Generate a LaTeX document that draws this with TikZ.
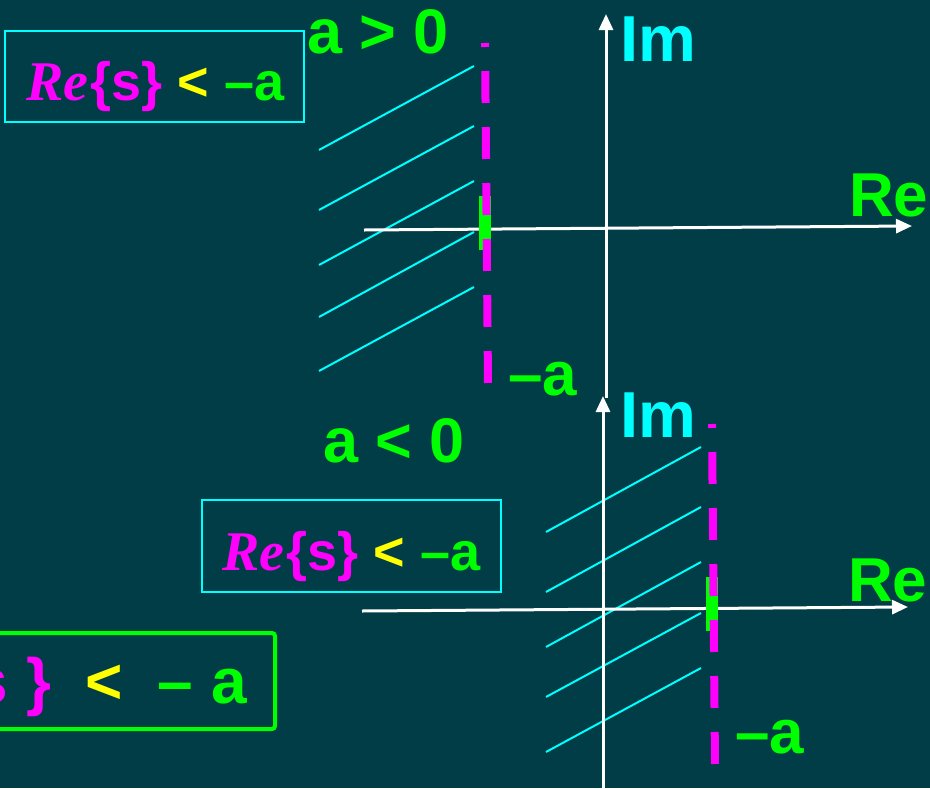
\documentclass[tikz,border=0pt]{standalone}
\usepackage{fontspec}
\setmainfont{Liberation Sans}
\newfontfamily\eqserif{Liberation Serif}
\usetikzlibrary{arrows.meta}
\definecolor{bg}{RGB}{1,61,71}
\definecolor{mag}{RGB}{255,0,255}
\definecolor{yel}{RGB}{255,255,0}
\definecolor{grn}{RGB}{0,255,0}
\definecolor{cyn}{RGB}{0,255,255}
\newcommand\myfs[1]{\fontsize{#1}{#1}\selectfont}
\newcommand\boxtext{{\myfs{56}\eqserif\bfseries\itshape\color{mag}Re\kern2pt}{\myfs{54}\bfseries\color{mag}\{s\} \color{yel}< \color{grn}–a}}
\tikzset{
  axisline/.style={draw=white, line width=3pt, -{Triangle[length=16pt,width=14pt]}},
  hatchline/.style={draw=cyn, line width=2pt},
  limitline/.style={draw=mag, line width=8pt, dash pattern=on 32pt off 24pt, dash phase=28pt},
  markbar/.style={fill=grn, draw=none},
  lbl/.style={anchor=base west, inner sep=0pt, font=\bfseries},
  condbox/.style={draw=cyn, line width=2pt},
  bigbox/.style={draw=grn, line width=4pt, rounded corners=3pt}
}
\begin{document}
\begin{tikzpicture}[x=1pt,y=-1pt]
\fill[bg] (0,0) rectangle (930,788);
\useasboundingbox (0,0) rectangle (930,788);
\clip (0,0) rectangle (930,788);

% ---------- top diagram (a > 0) ----------
\foreach \ya/\yb in {150/66, 210/126, 265/181, 317/232, 371/287}
  \draw[hatchline] (319,\ya) -- (474,\yb);
\coordinate (reL1) at (364,230);
\coordinate (reR1) at (912,226);
\coordinate (imB1) at (606,398);
\coordinate (imT1) at (606,14);
\draw[axisline] (reL1) -- (reR1);
\draw[axisline] (imB1) -- (imT1);
\fill[markbar] (479,196) rectangle (491,250);
\coordinate (limT1) at (485,43);
\coordinate (limB1) at (488,383);
\draw[limitline] (limT1) -- (limB1);

\node[lbl, text=grn, font=\bfseries\myfs{63}] (agt) at (307,53) {a > 0};
\node[lbl, text=cyn, font=\bfseries\myfs{65}] (im1) at (620,61) {Im};
\node[lbl, text=grn, font=\bfseries\myfs{62}] (re1) at (849,216) {Re};
\node[lbl, text=grn, font=\bfseries\myfs{62}] (ma1) at (508,395) {–a};

\draw[condbox] (5,31) rectangle (304,122);
\node[lbl] (cond1) at (26,100) {\boxtext};

% ---------- bottom diagram (a < 0) ----------
\foreach \ya/\yb in {532/447, 592/507, 647/562, 697/613, 752/668}
  \draw[hatchline] (546,\ya) -- (701,\yb);
\coordinate (reL2) at (362,611);
\coordinate (reR2) at (908,607);
\coordinate (imB2) at (603,800);
\coordinate (imT2) at (603,396);
\draw[axisline] (reL2) -- (reR2);
\draw[axisline] (imB2) -- (imT2);
\fill[markbar] (706,577) rectangle (718,631);
\coordinate (limT2) at (712,424);
\coordinate (limB2) at (715,764);
\draw[limitline] (limT2) -- (limB2);

\node[lbl, text=grn, font=\bfseries\myfs{63}] (alt) at (323,462) {a < 0};
\node[lbl, text=cyn, font=\bfseries\myfs{65}] (im2) at (620,437) {Im};
\node[lbl, text=grn, font=\bfseries\myfs{62}] (re2) at (848,601) {Re};
\node[lbl, text=grn, font=\bfseries\myfs{62}] (ma2) at (735,753) {–a};

\draw[condbox] (202,500) rectangle (501,592);
\node[lbl] (cond2) at (222,570) {\boxtext};

% ---------- partial green box at bottom left ----------
\draw[bigbox] (-40,633) rectangle (275,729);
\node[lbl, text=mag, font=\bfseries\myfs{64}] (bs) at (-28,703) {s};
\node[lbl, text=mag, font=\bfseries\myfs{64}] (bbr) at (26,703) {\}};
\node[lbl, text=yel, font=\bfseries\myfs{64}] (blt) at (85,703) {<};
\node[lbl, text=grn, font=\bfseries\myfs{64}] (bmi) at (157,703) {–};
\node[lbl, text=grn, font=\bfseries\myfs{64}] (ba) at (211,703) {a};
\end{tikzpicture}
\end{document}
